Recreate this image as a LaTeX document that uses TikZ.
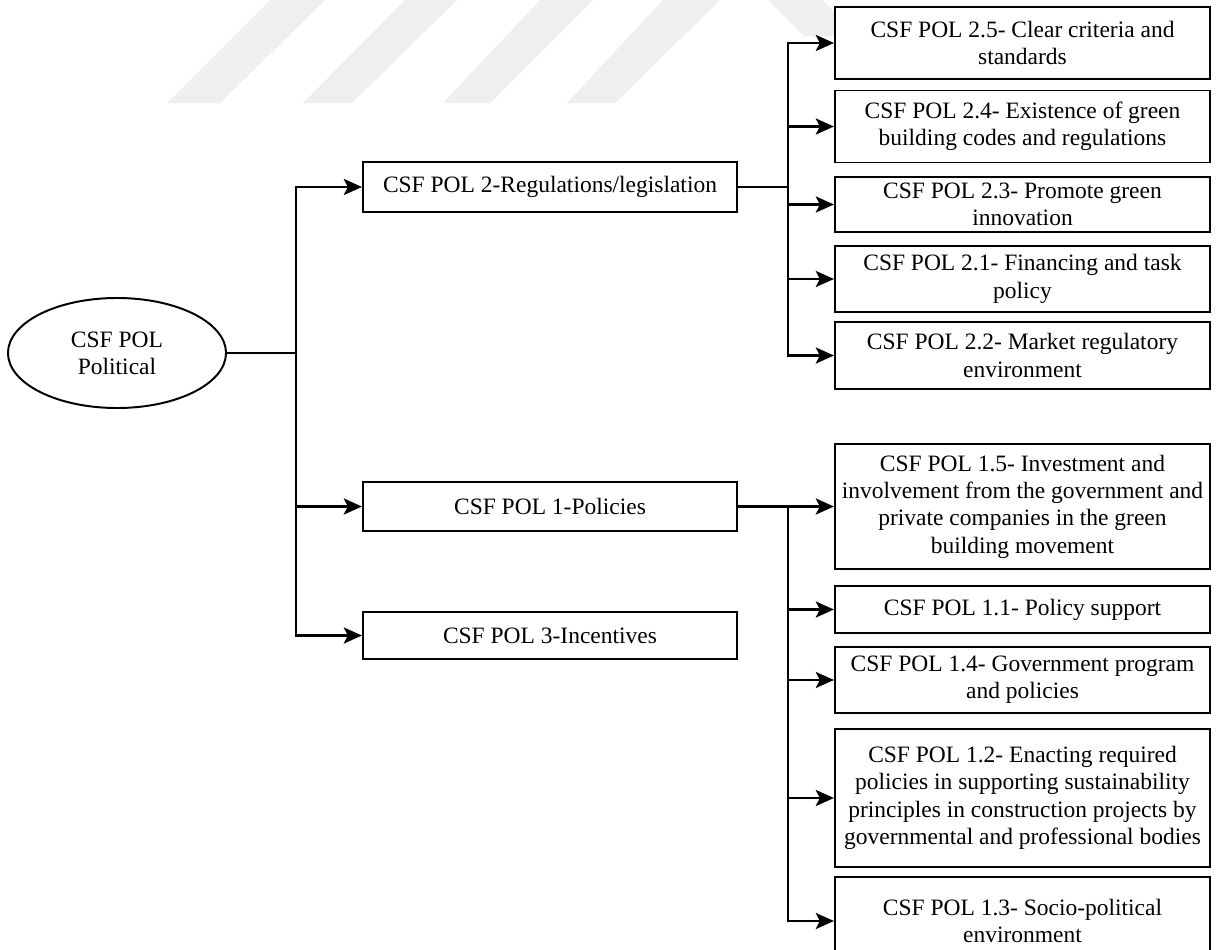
\documentclass[tikz,border=0pt]{standalone}
\usepackage{fontspec}
\setmainfont{Liberation Serif}
\usetikzlibrary{arrows.meta,shapes.geometric}
\definecolor{wmark}{RGB}{239,239,239}
\begin{document}
\begin{tikzpicture}[x=0.025cm,y=-0.025cm,
  every node/.style={font=\fontsize{16.7pt}{19.4pt}\selectfont},
  conn/.style={line width=1.5pt},
  arr/.style={conn,-{Stealth[length=13pt,width=11.5pt,inset=3pt]}},
  box/.style={draw,line width=1.4pt,fill=white,align=center,inner sep=0pt,
              minimum width=9.375cm},
  midbox/.style={box,minimum width=9.35cm},
  ell/.style={draw,line width=1.4pt,fill=white,ellipse,align=center,inner sep=0pt,
              minimum width=5.45cm,minimum height=2.75cm}]

% page frame
\clip (0,0) rectangle (1219,949);
\fill[white] (0,0) rectangle (1219,949);

% faint background stripes
\begin{scope}[wmark]
  \fill (167,103) -- (220,103) -- (325,0) -- (270,0) -- cycle;
  \fill (303,103) -- (352,103) -- (457,0) -- (405,0) -- cycle;
  \fill (443,103) -- (490,103) -- (593,0) -- (540,0) -- cycle;
  \fill (567,103) -- (615,103) -- (720,0) -- (663,0) -- cycle;
  \fill (768,0) -- (822,0) -- (858,36) -- (804,36) -- cycle;
\end{scope}

% root
\node[ell] (root) at (117,353) {CSF POL\\Political};

% second level
\node[midbox,minimum height=1.25cm]  (regs) at (550,187)   {CSF POL 2-Regulations/legislation};
\node[midbox,minimum height=1.225cm] (pol)  at (550,506.5) {CSF POL 1-Policies};
\node[midbox,minimum height=1.175cm] (inc)  at (550,635.5) {CSF POL 3-Incentives};

% regulations branch
\node[box,minimum height=1.8cm]   (r25) at (1022.5,43)    {CSF POL 2.5- Clear criteria and\\standards};
\node[box,minimum height=1.8cm]   (r24) at (1022.5,126.5) {CSF POL 2.4- Existence of green\\building codes and regulations};
\node[box,minimum height=1.375cm] (r23) at (1022.5,204.5) {CSF POL 2.3- Promote green\\innovation};
\node[box,minimum height=1.65cm]  (r21) at (1022.5,279)   {CSF POL 2.1- Financing and task\\policy};
\node[box,minimum height=1.675cm] (r22) at (1022.5,355.5) {CSF POL 2.2- Market regulatory\\environment};

% policies branch
\node[box,minimum height=3.125cm] (p15) at (1022.5,506.5) {CSF POL 1.5- Investment and\\involvement from the government and\\private companies in the green\\building movement};
\node[box,minimum height=1.175cm] (p11) at (1022.5,609.5) {CSF POL 1.1- Policy support};
\node[box,minimum height=1.65cm]  (p14) at (1022.5,680)   {CSF POL 1.4- Government program\\and policies};
\node[box,minimum height=3.45cm]  (p12) at (1022.5,798)   {CSF POL 1.2- Enacting required\\policies in supporting sustainability\\principles in construction projects by\\governmental and professional bodies};
\node[box,minimum height=2.2cm]   (p13) at (1022.5,921)   {CSF POL 1.3- Socio-political\\environment};

% bus points
\coordinate (busL) at (296,353);
\coordinate (busR) at (788,187);
\coordinate (busP) at (788,506.5);

% root to second level
\draw[conn] (root.east) -- (busL);
\draw[arr] (busL) |- (regs.west);
\draw[arr] (busL) |- (pol.west);
\draw[arr] (busL) |- (inc.west);

% regulations to children
\draw[conn] (regs.east) -- (busR);
\foreach \c in {r25,r24,r23,r21,r22}
  \draw[arr] (busR) |- (\c.west);

% policies to children
\draw[conn] (pol.east) -- (busP);
\foreach \c in {p15,p11,p14,p12,p13}
  \draw[arr] (busP) |- (\c.west);
\end{tikzpicture}
\end{document}
